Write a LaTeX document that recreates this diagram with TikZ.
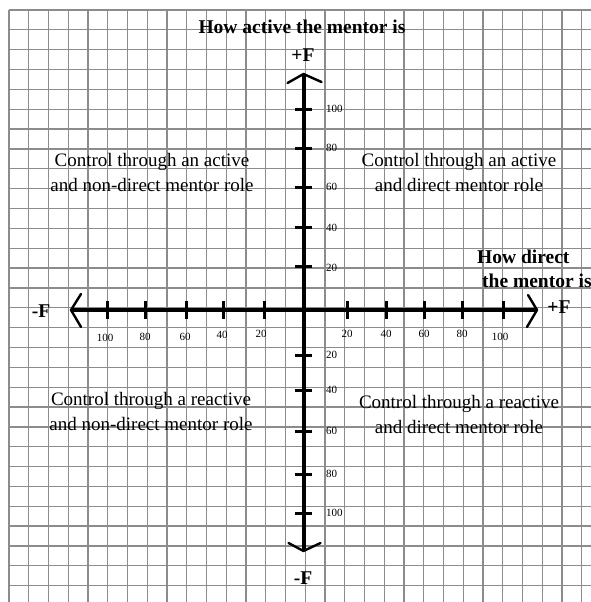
\documentclass[tikz,border=0pt]{standalone}
\usepackage{fontspec}
\setmainfont{Liberation Serif}
\definecolor{gridgray}{RGB}{140,140,140}
\begin{document}
\begin{tikzpicture}[x=1pt,y=-1pt,
  gridline/.style={draw=gridgray, line width=1.3pt},
  axisline/.style={line width=4pt, draw=black},
  tickline/.style={line width=3pt, draw=black},
  chevron/.style={line width=2.4pt, draw=black, line cap=round, line join=round},
  quad/.style={font=\fontsize{19}{25}\selectfont, align=center, inner sep=0pt},
  boldlbl/.style={font=\fontsize{19.5}{23}\selectfont\bfseries, inner sep=0pt},
  num/.style={font=\fontsize{11}{11}\selectfont, inner sep=0pt}]
\useasboundingbox (0,0) rectangle (591,602);
\fill[white] (0,0) rectangle (591,602);
% grid
\foreach \k in {0,...,29} {
  \draw[gridline] ({9+19.75*\k},10) -- ({9+19.75*\k},602);
  \draw[gridline] (9,{10+19.85*\k}) -- (591,{10+19.85*\k});
}
% axes
\coordinate (L) at (71,310);
\coordinate (R) at (537,310);
\coordinate (T) at (303.5,74);
\coordinate (B) at (303.5,551);
\draw[axisline] (L) -- (R);
\draw[axisline] (T) -- (B);
\draw[chevron] ([shift={(10,-16)}]L) -- (L) -- ([shift={(10,17)}]L);
\draw[chevron] ([shift={(-9,-15)}]R) -- (R) -- ([shift={(-10,17)}]R);
\draw[chevron] ([shift={(-16,9)}]T) -- (T) -- ([shift={(18,8)}]T);
\draw[chevron] ([shift={(-15,-8)}]B) -- (B) -- ([shift={(17,-8)}]B);
% ticks
\foreach \x in {107,145,186,223,264,347,386,424,462,503}
  \draw[tickline] (\x,301) -- (\x,319);
\foreach \y in {109,148,187,227,266,355,390,431,474,513}
  \draw[tickline] (295,\y) -- (312,\y);
% tick labels, horizontal axis
\foreach \x/\yy/\t [count=\i] in {105/338/100,145/337/80,185/337/60,222/335/40,261/334/20,347/334/20,386/334/40,424/334/60,462/334/80,500/337/100}
  \node[num] (hx\i) at (\x,\yy) {\t};
% tick labels, vertical axis
\foreach \y/\t [count=\i] in {109/100,148/80,187/60,228/40,268/20,355/20,390/40,431/60,474/80,513/100}
  \node[num, anchor=west] (vy\i) at (326,\y) {\t};
% axis labels
\node[boldlbl] (title) at (302,27) {How active the mentor is};
\node[boldlbl] (yplus) at (303,55) {+F};
\node[boldlbl] (yminus) at (303,578) {-F};
\node[boldlbl] (xminus) at (41,311) {-F};
\node[boldlbl] (xplus) at (559,307) {+F};
\node[boldlbl, anchor=west] (xtitle1) at (477,257) {How direct};
\node[boldlbl, anchor=west] (xtitle2) at (482,281) {the mentor is};
% quadrant texts
\node[quad] (q2) at (152,172) {Control through an active\\and non-direct mentor role};
\node[quad] (q1) at (459,172) {Control through an active\\and direct mentor role};
\node[quad] (q3) at (151,411) {Control through a reactive\\and non-direct mentor role};
\node[quad] (q4) at (459,414) {Control through a reactive\\and direct mentor role};
\end{tikzpicture}
\end{document}
